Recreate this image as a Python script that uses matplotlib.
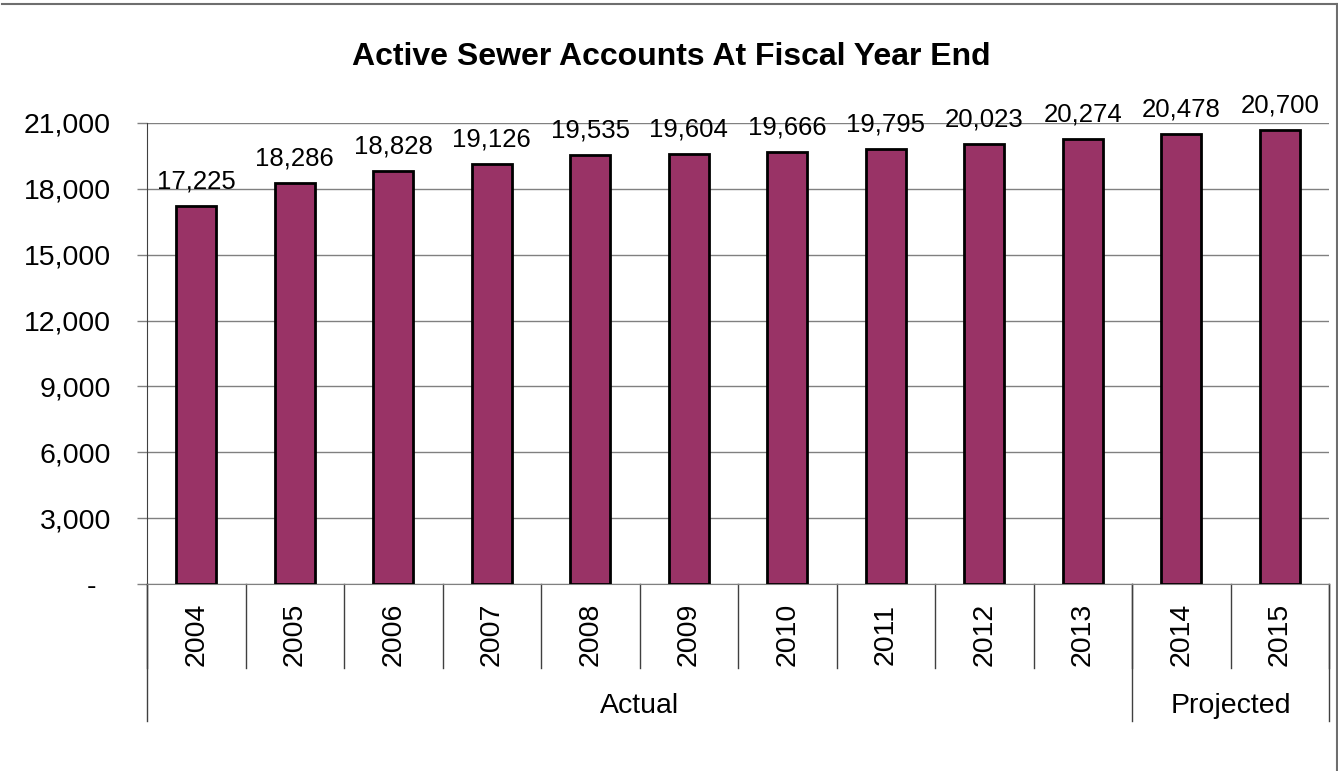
# Active sewer accounts at fiscal year end, Excel-style bar chart

import matplotlib
matplotlib.use("Agg")
import matplotlib.pyplot as plt
from matplotlib.lines import Line2D
from matplotlib.ticker import FuncFormatter

plt.rcParams['font.family'] = ['Liberation Sans', 'DejaVu Sans']

# data
years = ['2004', '2005', '2006', '2007', '2008', '2009',
         '2010', '2011', '2012', '2013', '2014', '2015']
accounts = [17225, 18286, 18828, 19126, 19535, 19604,
            19666, 19795, 20023, 20274, 20478, 20700]
groups = ['Actual', 'Projected']
group_sizes = [10, 2]
yticks = [0, 3000, 6000, 9000, 12000, 15000, 18000, 21000]

bar_color = '#993366'
grid_color = '#808080'

fig = plt.figure(figsize=(13.38, 7.71), dpi=100)
ax = fig.add_axes([147 / 1338, 1 - 584 / 771, (1329 - 147) / 1338, 461 / 771])

# partial frame: only top and right edges are visible in the original
fig.add_artist(Line2D([2 / 1338, 1], [1 - 4 / 771, 1 - 4 / 771],
                      color='#6e6e6e', linewidth=1.5))
fig.add_artist(Line2D([1336.5 / 1338, 1336.5 / 1338], [0, 1 - 4 / 771],
                      color='#6e6e6e', linewidth=1.5))

x = list(range(len(years)))
bars = ax.bar(x, accounts, width=0.41, color=bar_color,
              edgecolor='black', linewidth=2, zorder=3)

ax.set_xlim(-0.5, len(years) - 0.5)
ax.set_ylim(0, 21000)
ax.set_yticks(yticks)
# accounting style: zero shown as a dash with padding
ax.yaxis.set_major_formatter(
    FuncFormatter(lambda v, p: '-\u2002' if v == 0 else f'{int(v):,}'))
ax.tick_params(axis='y', labelsize=20.5, length=7, width=1,
               color=grid_color, pad=19)
ax.set_xticks([])
ax.grid(axis='y', color=grid_color, linewidth=1, zorder=0)

for side in ['top', 'right']:
    ax.spines[side].set_visible(False)
ax.spines['left'].set_color('#404040')
ax.spines['bottom'].set_color(grid_color)

# value labels above each bar
for rect, val in zip(bars, accounts):
    ax.annotate(f'{val:,}', (rect.get_x() + rect.get_width() / 2, val),
                xytext=(0, 9), textcoords='offset points',
                ha='center', va='bottom', fontsize=18.5)

# two-level category axis
tr = ax.get_xaxis_transform()
for i, yr in enumerate(years):
    ax.text(i, -0.11, yr, rotation=90, ha='center', va='center',
            fontsize=20.5, transform=tr)
for i in range(len(years) + 1):
    ax.plot([i - 0.5, i - 0.5], [0, -0.182], color='#404040',
            linewidth=1, transform=tr, clip_on=False)

start = -0.5
for name, n in zip(groups, group_sizes):
    end = start + n
    ax.plot([start, start], [0, -0.297], color='#404040',
            linewidth=1, transform=tr, clip_on=False)
    ax.text((start + end) / 2, -0.264, name, ha='center', va='center',
            fontsize=20.5, transform=tr)
    start = end
ax.plot([start, start], [0, -0.297], color='#404040',
        linewidth=1, transform=tr, clip_on=False)

fig.text(0.502, 1 - 57 / 771, 'Active Sewer Accounts At Fiscal Year End',
         ha='center', va='center', fontsize=23, fontweight='bold')

fig.savefig('out.png', dpi=100)
